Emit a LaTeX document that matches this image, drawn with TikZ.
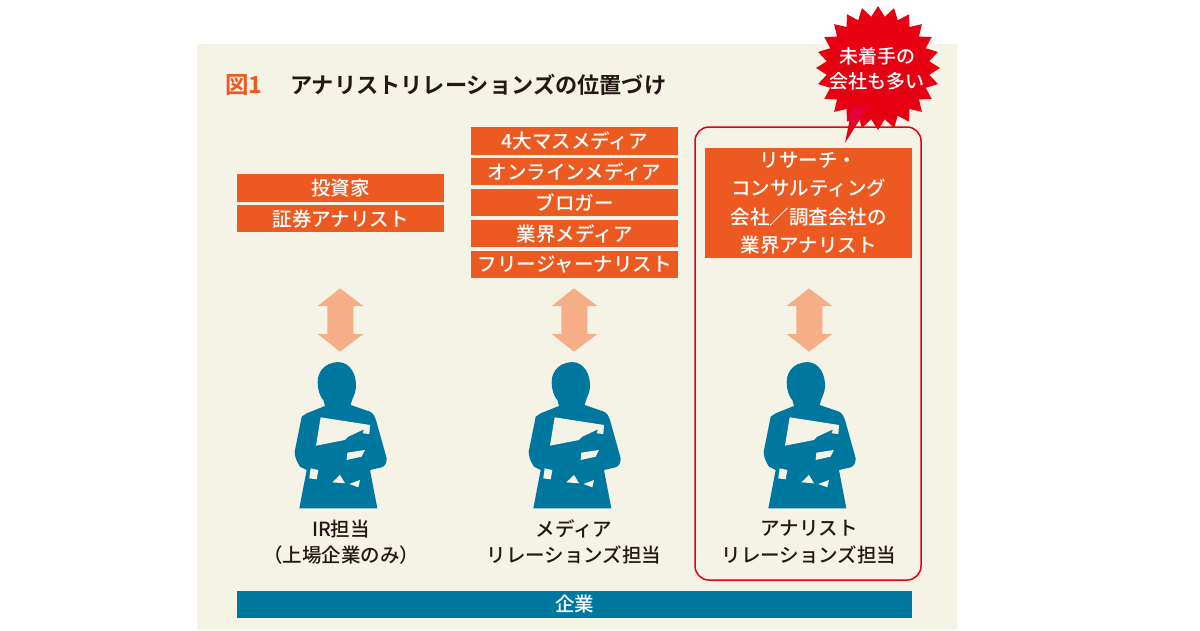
\documentclass[tikz,border=0pt]{standalone}
\usepackage{fontspec}
\usetikzlibrary{shapes.geometric}
\setmainfont{Noto Sans CJK JP Medium}[BoldFont={Noto Sans CJK JP Bold}]
\definecolor{bgc}{HTML}{F5F2E6}
\definecolor{orangec}{HTML}{EC5A22}
\definecolor{tealc}{HTML}{00779F}
\definecolor{arrowc}{HTML}{F6AE88}
\definecolor{redc}{HTML}{E60012}
\definecolor{tailc}{HTML}{E4003A}
\definecolor{inkc}{HTML}{231815}
\tikzset{
  obox/.style={fill=orangec,text=white,font=\fontsize{19.5}{23.5}\selectfont,align=center,anchor=north west,inner sep=0pt,minimum height=#1},
  caplabel/.style={text=inkc,font=\fontsize{19.5}{26.5}\selectfont,align=center,anchor=center,inner sep=0pt},
  personfig/.pic={
    \begin{scope}[x=0.3333pt,y=-0.3333pt]
    \fill[arrowc] (150,25)--(220,78)--(190,78)--(190,162)--(220,162)--(150,215)--(83,162)--(112,162)--(112,78)--(83,78)--cycle;
    \fill[tealc] (130,248) .. controls (170,238) and (195,270) .. (198,310) .. controls (200,340) and (185,355) .. (182,375) -- (240,395) .. controls (250,400) and (255,410) .. (258,420) -- (290,535) .. controls (290,550) and (285,558) .. (275,562) -- (240,570) -- (262,685) -- (28,685) -- (50,570) -- (30,560) .. controls (20,545) and (14,530) .. (14,515) -- (35,410) -- (50,400) -- (105,378) -- (100,360) .. controls (85,345) and (80,310) .. (85,290) .. controls (92,265) and (110,252) .. (130,248) -- cycle;
    \fill[bgc] (92,412)--(240,435)--(238,462)--(218,460)--(222,448)--(175,470)--(165,480)--(78,497)--cycle;
    \fill[bgc] (172,518)--(225,510)--(215,530)--(170,540)--cycle;
    \fill[bgc] (62,565)--(85,570)--(80,598)--(58,595)--cycle;
    \fill[bgc] (127,607)--(150,585)--(165,610)--cycle;
    \fill[bgc] (178,612)--(210,600)--(205,622)--cycle;
    \end{scope}
  }
}
\begin{document}
\begin{tikzpicture}[x=1pt,y=-1pt]
\useasboundingbox (0,0) rectangle (1200,630);
\fill[white] (0,0) rectangle (1200,630);
\fill[bgc] (197,44) rectangle (957,630);
\node[anchor=west,inner sep=0pt,text=orangec,font=\fontsize{23.5}{26}\bfseries\selectfont] (fig) at (225,85) {図1};
\node[anchor=west,inner sep=0pt,text=inkc,font=\fontsize{22.2}{26}\bfseries\selectfont] (title) at (290,85) {アナリストリレーションズの位置づけ};
\draw[redc,line width=1.5pt,rounded corners=14pt] (695,127) rectangle (921,580);
\node[obox=28pt,minimum width=207pt] (a1) at (237,174) {投資家};
\node[obox=27pt,minimum width=207pt] (a2) at (237,205) {証券アナリスト};
\node[obox=28pt,minimum width=207pt] (b1) at (471,127) {4大マスメディア};
\node[obox=27pt,minimum width=207pt] (b2) at (471,158) {オンラインメディア};
\node[obox=27pt,minimum width=207pt] (b3) at (471,189) {ブロガー};
\node[obox=27pt,minimum width=207pt] (b4) at (471,220) {業界メディア};
\node[obox=27pt,minimum width=207pt] (b5) at (471,251) {フリージャーナリスト};
\node[obox=110pt,minimum width=207pt,font=\fontsize{19.5}{28.5}\selectfont] (c1) at (705,148) {リサーチ・\\コンサルティング\\会社／調査会社の\\業界アナリスト};
\pic at (290,280) {personfig};
\pic at (524,280) {personfig};
\pic at (759,280) {personfig};
\node[caplabel] (l1) at (341,542) {IR担当\\（上場企業のみ）};
\node[caplabel] (l2) at (574,542) {メディア\\リレーションズ担当};
\node[caplabel] (l3) at (809,542) {アナリスト\\リレーションズ担当};
\fill[tealc] (237,591) rectangle (912,618);
\node[text=white,font=\fontsize{19.5}{23}\selectfont,inner sep=0pt] (corp) at (574.5,604.5) {企業};
\node[star,star points=24,star point ratio=1.2,fill=redc,minimum size=124pt,inner sep=0pt] (burst) at (878,68) {};
\fill[redc] (852,108)--(867,108)--(845,143)--cycle;
\fill[tailc] (852,108)--(867,108)--(857,122)--(849,122)--cycle;
\node[text=white,font=\fontsize{19}{25.5}\selectfont,align=center,inner sep=0pt] (bt) at (877,69) {未着手の\\会社も多い};
\end{tikzpicture}
\end{document}
